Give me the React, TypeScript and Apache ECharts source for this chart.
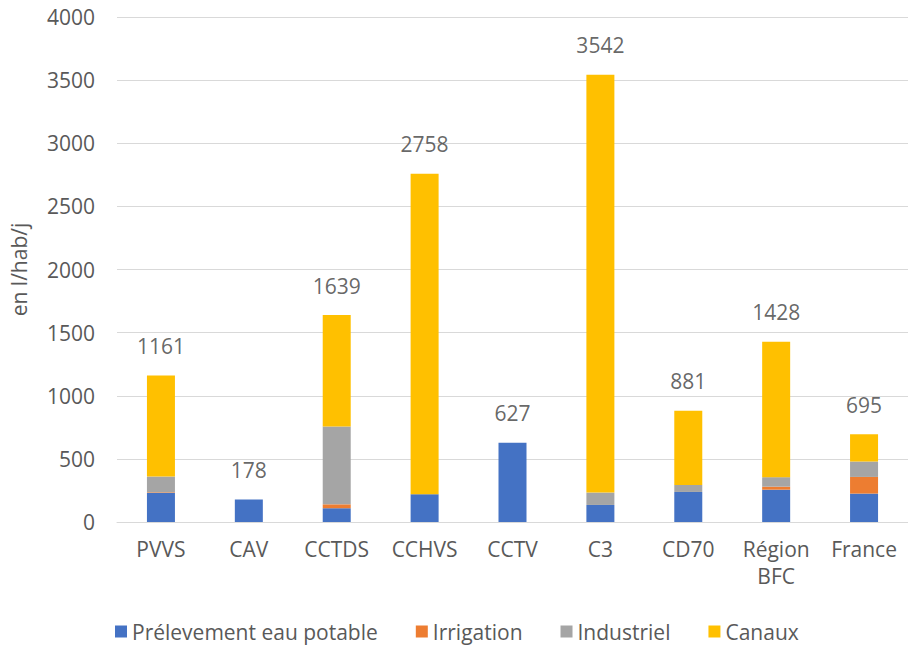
import React, { useEffect, useRef } from "react";
import * as echarts from "echarts";

const categories = ["PVVS", "CAV", "CCTDS", "CCHVS", "CCTV", "C3", "CD70", "Région\nBFC", "France"];
const potable = [230, 178, 109, 220, 627, 135, 238, 256, 225];
const irrigation = [5, 0, 31, 0, 0, 0, 0, 24, 132];
const industriel = [125, 0, 617, 0, 0, 98, 56, 75, 122];
const canaux = [801, 0, 882, 2538, 0, 3309, 587, 1073, 216];
const totals = [1161, 178, 1639, 2758, 627, 3542, 881, 1428, 695];
const seriesNames = ["Prélevement eau potable", "Irrigation", "Industriel", "Canaux"];
const colors = ["#4472C4", "#ED7D31", "#A5A5A5", "#FFC000"];

const FONT = "'Open Sans', sans-serif";

export default function App() {
  const ref = useRef<HTMLDivElement>(null);
  useEffect(() => {
    if (!ref.current) return;
    const chart = echarts.init(ref.current, undefined, { renderer: "svg" });
    const values = [potable, irrigation, industriel, canaux];
    chart.setOption({
      animation: false,
      textStyle: { fontFamily: FONT },
      grid: { left: 116, right: -6, top: 17, bottom: 125, containLabel: false },
      legend: {
        data: seriesNames,
        bottom: 0,
        left: 110,
        itemWidth: 12,
        itemHeight: 12,
        itemGap: 38,
        icon: "rect",
        textStyle: { fontSize: 21, color: "#595959", fontFamily: FONT },
      },
      xAxis: {
        type: "category",
        data: categories,
        axisLine: { lineStyle: { color: "#d9d9d9", width: 1 } },
        axisTick: { show: false },
        axisLabel: { fontSize: 21, color: "#595959", margin: 13, lineHeight: 27, fontFamily: FONT },
      },
      yAxis: {
        type: "value",
        min: 0,
        max: 4000,
        interval: 500,
        name: "en l/hab/j",
        nameLocation: "middle",
        nameGap: 88,
        nameTextStyle: { fontSize: 21, color: "#595959", fontFamily: FONT },
        axisLine: { show: false },
        axisTick: { show: false },
        axisLabel: {
          fontSize: 21,
          color: "#595959",
          margin: 22,
          fontFamily: FONT,
          formatter: (v: number) => String(v),
        },
        splitLine: { lineStyle: { color: "#d9d9d9", width: 1 } },
      },
      series: [
        ...values.map((v, i) => ({
          name: seriesNames[i],
          type: "bar",
          stack: "total",
          barWidth: 28,
          data: v,
          itemStyle: { color: colors[i] },
        })),
        {
          name: "total",
          type: "scatter",
          data: totals,
          symbolSize: 0,
          silent: true,
          label: {
            show: true,
            position: "top",
            distance: 19,
            fontSize: 21,
            color: "#404040",
            fontFamily: FONT,
          },
        },
      ],
    });
    return () => chart.dispose();
  }, []);
  return (
    <div
      ref={ref}
      style={{ position: "fixed", left: 0, top: 0, width: 908, height: 647, background: "#fff" }}
    />
  );
}
